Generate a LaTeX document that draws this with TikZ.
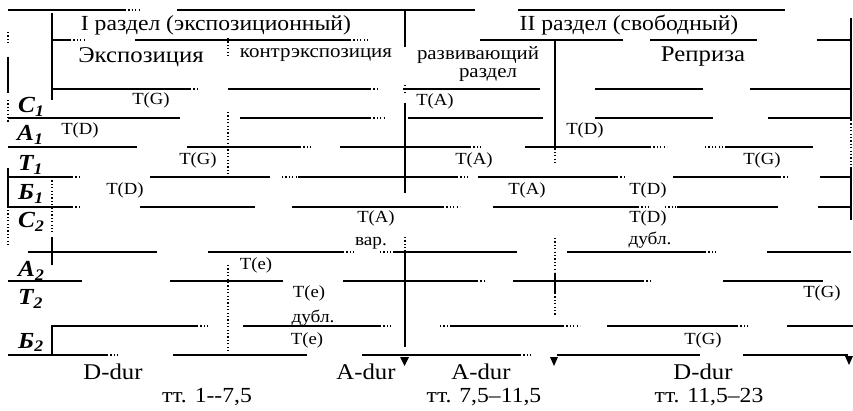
\documentclass[tikz,border=0pt]{standalone}
\usepackage{fontspec}
\setmainfont{Liberation Serif}[FakeStretch=1.1]
\begin{document}
\begin{tikzpicture}[x=1pt,y=-1pt,
  rule/.style={line width=1.3pt},
  faint/.style={line width=1.1pt, dash pattern=on 1.2pt off 2.2pt},
  head/.style={font=\fontsize{21.5}{24}\selectfont, inner sep=0pt},
  big/.style={font=\fontsize{22.5}{25}\selectfont, inner sep=0pt},
  sub/.style={font=\fontsize{19}{22}\selectfont, inner sep=0pt},
  key/.style={font=\fontsize{17}{19}\selectfont, inner sep=0pt},
  small/.style={font=\fontsize{17.5}{19}\selectfont, inner sep=0pt},
  row/.style={font=\fontsize{23}{25}\selectfont\bfseries\itshape, anchor=base west, inner sep=0pt},
  tip/.style={fill=black}]
\useasboundingbox[fill=white] (0,0) rectangle (853,411);

% horizontal rules of the scheme
\foreach \y/\a/\b in {
  10/8/125, 10/177/475, 10/518/785,
  40/52/70, 40/135/350, 40/480/623, 40/650/757, 40/817/851,
  89/52/190, 89/228/370, 89/403/540, 89/595/703, 89/750/851,
  118/8/180, 118/240/370, 118/408/543, 118/595/713, 118/768/851,
  147/8/137, 147/187/300, 147/340/470, 147/525/650, 147/727/813,
  177/8/72, 177/150/270, 177/298/457, 177/478/617, 177/673/780, 177/820/851,
  207/8/72, 207/140/255, 207/292/443, 207/493/638, 207/677/778, 207/818/851,
  252/28/157, 252/208/343, 252/393/517, 252/567/705, 252/767/851,
  281/8/82, 281/170/283, 281/343/477, 281/513/643, 281/723/823,
  326/52/197, 326/243/380, 326/450/563, 326/607/737, 326/787/853,
  355/8/107, 355/173/307, 355/362/520, 355/557/700, 355/743/848}
  \draw[rule] (\a,\y) -- (\b,\y);

% broken ends of some rules
\foreach \y/\a/\b in {
  10/125/140, 40/70/85, 40/350/368, 89/190/200, 89/370/380, 118/370/385,
  147/300/313, 147/470/483, 147/650/667, 147/705/727,
  177/72/80, 177/282/297, 177/457/470, 177/617/627, 177/780/790,
  207/72/80, 207/443/460, 207/638/650, 207/665/677,
  252/343/355, 252/380/393, 252/705/718, 281/477/485, 281/643/653,
  326/197/210, 326/380/392, 326/440/450, 326/563/580, 326/737/750,
  355/107/120, 355/520/532}
  \draw[faint] (\a,\y) -- (\b,\y);

% vertical rules
\foreach \x/\a/\b in {
  52/13/100, 52/237/265, 52/325/355,
  8/57/93, 8/168/208,
  405/10/47, 405/103/193, 405/250/347,
  555/40/145, 555/273/293,
  851/18/120, 851/167/220}
  \draw[rule] (\x,\a) -- (\x,\b);
\foreach \x/\a/\b in {
  52/177/232, 8/32/45, 8/100/122, 8/210/245,
  228/38/58, 228/112/178, 228/265/353,
  405/85/95, 405/237/250,
  555/145/163, 555/238/272, 555/293/315,
  851/120/165}
  \draw[faint] (\x,\a) -- (\x,\b);

% key arrows
\fill[tip] (400,357) -- (409,357) -- (404.5,366) -- cycle;
\fill[tip] (550,357) -- (558,357) -- (554,366) -- cycle;
\fill[tip] (845,356) -- (853,356) -- (849,365) -- cycle;

% section headings
\node[head] (h1) at (216,25) {I раздел (экспозиционный)};
\node[head] (h2) at (629,25) {II раздел (свободный)};
\node[big]  (s1) at (141,57) {Экспозиция};
\node[sub]  (s2) at (316,55) {контрэкспозиция};
\node[sub]  (s3) at (478,55) {развивающий};
\node[sub]  (s4) at (488,75) {раздел};
\node[big]  (s5) at (703,57) {Реприза};

% voices
\node[row] (c1) at (18,113) {С\textsubscript{1}};
\node[row] (a1) at (17,141) {А\textsubscript{1}};
\node[row] (t1) at (18,171) {Т\textsubscript{1}};
\node[row] (b1) at (18,200) {Б\textsubscript{1}};
\node[row] (c2) at (18,228) {С\textsubscript{2}};
\node[row] (a2) at (18,277) {А\textsubscript{2}};
\node[row] (t2) at (18,305) {Т\textsubscript{2}};
\node[row] (b2) at (18,348) {Б\textsubscript{2}};

% tonal entries
\node[key] (k1)  at (151,100) {T(G)};
\node[key] (k2)  at (80,130)  {T(D)};
\node[key] (k3)  at (435,101) {T(A)};
\node[key] (k4)  at (585,130) {T(D)};
\node[key] (k5)  at (198,160) {T(G)};
\node[key] (k6)  at (474,160) {T(A)};
\node[key] (k7)  at (762,160) {T(G)};
\node[key] (k8)  at (125,190) {T(D)};
\node[key] (k9)  at (527,190) {T(A)};
\node[key] (k10) at (648,190) {T(D)};
\node[key] (k11) at (376,218) {T(A)};
\node[small] (v1) at (371,243) {вар.};
\node[key] (k12) at (648,218) {T(D)};
\node[small] (d1) at (650,240) {дубл.};
\node[key] (k13) at (256,265) {T(e)};
\node[key] (k14) at (309,293) {T(e)};
\node[small] (d2) at (313,318) {дубл.};
\node[key] (k15) at (307,340) {T(e)};
\node[key] (k16) at (822,293) {T(G)};
\node[key] (k17) at (703,340) {T(G)};

% keys and bar ranges
\node[big]  (m1) at (113,372) {D-dur};
\node[head] (r1) at (207,397) {тт. 1{-}{-}7,5};
\node[big]  (m2) at (366,372) {A-dur};
\node[big]  (m3) at (481,372) {A-dur};
\node[head] (r2) at (484,397) {тт. 7,5–11,5};
\node[big]  (m4) at (703,372) {D-dur};
\node[head] (r3) at (709,397) {тт. 11,5–23};
\end{tikzpicture}
\end{document}
